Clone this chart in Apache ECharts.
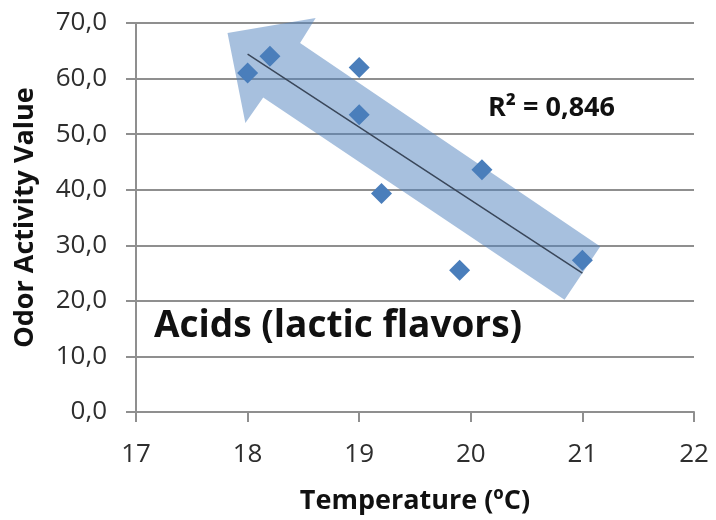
<!DOCTYPE html>
<html>
<head>
<meta charset="utf-8">
<script src="https://cdn.jsdelivr.net/npm/echarts@6/dist/echarts.min.js"></script>
<style>
  html, body { margin: 0; padding: 0; background: #fff; }
  #chart { width: 716px; height: 520px; }
</style>
</head>
<body>
<div id="chart"></div>
<script>
  // measured samples
  const temperature = [18, 18.2, 19, 19, 19.2, 19.9, 20.1, 21]
  const odorActivity = [61, 64, 62, 53.5, 39.3, 25.5, 43.6, 27.3]

  // linear trendline
  const trendX = [18, 21]
  const trendY = [64.4, 25.0]
  const rSquared = '0,846'

  // the big arrow annotation, outline in data units
  const arrowX = [17.82, 18.61, 18.47, 21.16, 20.84, 18.14, 17.98]
  const arrowY = [68.2, 70.9, 66.4, 29.8, 20.2, 56.6, 52.0]

  const xTicks = { min: 17, max: 22, step: 1 }
  const yTicks = { min: 0, max: 70, step: 10 }

  const FONT = '"Open Sans", "Noto Sans", sans-serif'
  const gridColor = '#8f8f8f'

  const chart = echarts.init(document.getElementById('chart'))

  const option = {
    animation: false,
    grid: {
      left: 136,
      right: 22,
      top: 23,
      bottom: 105
    },
    xAxis: {
      type: 'value',
      min: xTicks.min,
      max: xTicks.max,
      interval: xTicks.step,
      name: 'Temperature (ºC)',
      nameLocation: 'middle',
      nameGap: 76,
      nameTextStyle: {
        fontFamily: FONT,
        fontWeight: 'bold',
        fontSize: 27,
        color: '#111'
      },
      axisLine: { show: true, onZero: false, lineStyle: { color: gridColor, width: 2 } },
      axisTick: { show: true, length: 10, lineStyle: { color: gridColor, width: 2 } },
      axisLabel: {
        margin: 30,
        fontFamily: FONT,
        fontSize: 26,
        color: '#2e2e2e',
        showMinLabel: true,
        showMaxLabel: true
      },
      splitLine: { show: false }
    },
    yAxis: {
      type: 'value',
      min: yTicks.min,
      max: yTicks.max,
      interval: yTicks.step,
      name: 'Odor Activity Value',
      nameLocation: 'middle',
      nameGap: 97,
      nameTextStyle: {
        fontFamily: FONT,
        fontWeight: 'bold',
        fontSize: 27,
        color: '#111'
      },
      axisLine: { show: true, lineStyle: { color: gridColor, width: 2 } },
      axisTick: { show: true, length: 10, lineStyle: { color: gridColor, width: 2 } },
      axisLabel: {
        margin: 29,
        fontFamily: FONT,
        fontSize: 26,
        color: '#2e2e2e',
        showMinLabel: true,
        showMaxLabel: true,
        formatter: v => v.toFixed(1).replace('.', ',')
      },
      splitLine: { show: true, lineStyle: { color: gridColor, width: 2 } }
    },
    series: [
      {
        type: 'custom',
        z: 1,
        clip: false,
        silent: true,
        data: [0],
        renderItem: (params, api) => {
          const pts = arrowX.map((x, i) => api.coord([x, arrowY[i]]))
          return {
            type: 'polygon',
            shape: { points: pts },
            style: { fill: 'rgba(79,129,189,0.5)' }
          }
        }
      },
      {
        type: 'scatter',
        z: 3,
        symbol: 'diamond',
        symbolSize: 21,
        itemStyle: { color: '#4a7ebb', opacity: 1 },
        data: temperature.map((t, i) => [t, odorActivity[i]])
      },
      {
        type: 'line',
        z: 4,
        symbol: 'none',
        lineStyle: { color: '#3a475a', width: 1.5 },
        data: trendX.map((t, i) => [t, trendY[i]])
      }
    ],
    graphic: [
      {
        type: 'text',
        left: 488,
        top: 95,
        z: 10,
        style: {
          text: 'R² = ' + rSquared,
          font: 'bold 27px ' + FONT,
          fill: '#111'
        }
      },
      {
        type: 'text',
        left: 154,
        top: 308,
        z: 10,
        style: {
          text: 'Acids (lactic flavors)',
          font: 'bold 37px ' + FONT,
          fill: '#111'
        }
      }
    ]
  }

  chart.setOption(option)
</script>
</body>
</html>
